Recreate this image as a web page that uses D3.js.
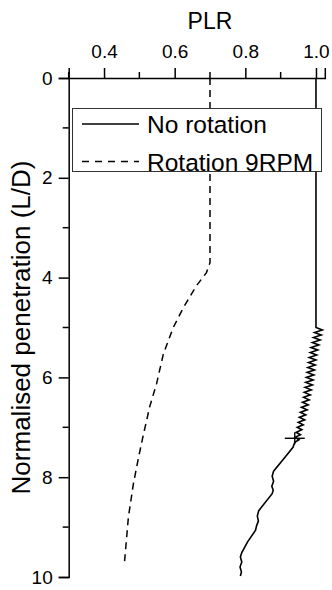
<!DOCTYPE html>
<html>
<head>
<meta charset="utf-8">
<script src="https://cdn.jsdelivr.net/npm/d3@7/dist/d3.min.js"></script>
<style>
  body { margin: 0; background: #fff; }
  svg text { font-family: "Liberation Sans", Arial, sans-serif; fill: #000; }
</style>
</head>
<body>
<div id="chart"></div>
<script>
// PLR vs normalised penetration
var seriesNames = ["No rotation", "Rotation 9RPM"];

// No rotation: [PLR, L/D]
var noRotation = [
	[1.000, 0.00], [1.000, 5.00],
	[1.018, 5.05], [0.996, 5.10], [1.015, 5.15], [0.993, 5.20], [1.012, 5.25],
	[0.990, 5.30], [1.008, 5.35], [0.986, 5.40], [1.005, 5.45], [0.984, 5.50],
	[1.002, 5.55], [0.981, 5.60], [1.000, 5.65], [0.979, 5.70], [0.998, 5.75],
	[0.977, 5.80], [0.996, 5.85], [0.975, 5.90], [0.994, 5.95], [0.973, 6.00],
	[0.992, 6.05], [0.971, 6.10], [0.990, 6.15], [0.969, 6.20], [0.987, 6.25],
	[0.967, 6.30], [0.984, 6.35], [0.965, 6.40], [0.981, 6.45], [0.962, 6.50],
	[0.978, 6.55], [0.959, 6.60], [0.975, 6.65], [0.956, 6.70], [0.971, 6.75],
	[0.953, 6.80], [0.968, 6.85], [0.950, 6.90], [0.964, 6.95], [0.947, 7.00],
	[0.960, 7.05], [0.944, 7.10], [0.956, 7.15], [0.941, 7.20], [0.952, 7.25],
	[0.940, 7.30], [0.935, 7.40], [0.910, 7.62], [0.880, 7.88],
	[0.876, 7.98], [0.880, 8.08], [0.875, 8.18], [0.879, 8.26], [0.876, 8.33],
	[0.838, 8.67], [0.834, 8.78], [0.837, 8.88], [0.832, 8.97], [0.829, 9.06],
	[0.806, 9.30], [0.790, 9.51], [0.786, 9.60], [0.790, 9.70], [0.785, 9.80],
	[0.789, 9.90], [0.786, 9.98]
];

// Rotation 9RPM: [PLR, L/D]
var rotation9 = [
	[0.700, 0.00], [0.700, 3.70], [0.690, 3.90], [0.662, 4.16], [0.624, 4.61],
	[0.596, 5.00], [0.568, 5.53], [0.549, 6.12], [0.530, 6.57], [0.511, 7.16],
	[0.497, 7.63], [0.483, 8.14], [0.469, 8.80], [0.458, 9.70]
];

// stray cross marker on the no-rotation curve
var crossMark = [0.940, 7.22];

var xTicks = [0.4, 0.6, 0.8, 1.0];
var xMinorTicks = [0.3, 0.5, 0.7, 0.9];
var yTicks = [0, 2, 4, 6, 8, 10];
var yMinorTicks = [1, 3, 5, 7, 9];

var W = 332, H = 590;

var svg = d3.select("#chart").append("svg")
	.attr("width", W)
	.attr("height", H);

var x = d3.scaleLinear().domain([0.3, 1.025]).range([68.7, 324.8]);
var y = d3.scaleLinear().domain([0, 10]).range([78, 577]);

// top axis
var xAxis = d3.axisTop(x)
	.tickValues(xTicks)
	.tickFormat(d3.format(".1f"))
	.tickSize(10)
	.tickPadding(10);

var gx = svg.append("g")
	.attr("class", "x-axis")
	.attr("transform", "translate(0," + y(0) + ")")
	.call(xAxis);

gx.append("g").selectAll("line")
	.data(xMinorTicks)
	.enter().append("line")
	.attr("x1", d => x(d)).attr("x2", d => x(d))
	.attr("y1", 0).attr("y2", -6)
	.attr("stroke", "#000").attr("stroke-width", 1.5);

// left axis
var yAxis = d3.axisLeft(y)
	.tickValues(yTicks)
	.tickFormat(d3.format("d"))
	.tickSize(10)
	.tickPadding(6);

var gy = svg.append("g")
	.attr("class", "y-axis")
	.attr("transform", "translate(" + x(0.3) + ",0)")
	.call(yAxis);

gy.append("g").selectAll("line")
	.data(yMinorTicks)
	.enter().append("line")
	.attr("y1", d => y(d)).attr("y2", d => y(d))
	.attr("x1", 0).attr("x2", -6)
	.attr("stroke", "#000").attr("stroke-width", 1.5);

svg.selectAll(".domain").attr("stroke", "#000").attr("stroke-width", 1.5);
svg.selectAll(".tick line").attr("stroke", "#000").attr("stroke-width", 1.5);
svg.selectAll(".tick text")
	.style("font-size", "19px")
	.style("font-family", "'Liberation Sans', Arial, sans-serif");

// axis titles
svg.append("text")
	.attr("x", x(0.7))
	.attr("y", 29)
	.attr("text-anchor", "middle")
	.style("font-size", "23px")
	.text("PLR");

svg.append("text")
	.attr("transform", "translate(30," + y(5) + ") rotate(-90)")
	.attr("text-anchor", "middle")
	.style("font-size", "26px")
	.text("Normalised penetration (L/D)");

// lines
var line = d3.line()
	.x(d => x(d[0]))
	.y(d => y(d[1]));

svg.append("path")
	.datum(rotation9)
	.attr("fill", "none")
	.attr("stroke", "#000")
	.attr("stroke-width", 1.5)
	.attr("stroke-dasharray", "7,5")
	.attr("d", line);

svg.append("path")
	.datum(noRotation)
	.attr("fill", "none")
	.attr("stroke", "#000")
	.attr("stroke-width", 1.6)
	.attr("stroke-linejoin", "miter")
	.attr("d", line);

// cross marker
svg.append("line")
	.attr("x1", x(crossMark[0]) - 10).attr("x2", x(crossMark[0]) + 10)
	.attr("y1", y(crossMark[1])).attr("y2", y(crossMark[1]))
	.attr("stroke", "#000").attr("stroke-width", 1.4);
svg.append("line")
	.attr("x1", x(crossMark[0])).attr("x2", x(crossMark[0]))
	.attr("y1", y(crossMark[1]) - 6).attr("y2", y(crossMark[1]) + 6)
	.attr("stroke", "#000").attr("stroke-width", 1.4);

// legend
var legend = svg.append("g").attr("class", "legend");
legend.append("rect")
	.attr("x", 72.5).attr("y", 108.5)
	.attr("width", 249).attr("height", 63)
	.attr("fill", "#fff")
	.attr("stroke", "#333")
	.attr("stroke-width", 1);

var rows = legend.selectAll("g.row")
	.data(seriesNames)
	.enter().append("g")
	.attr("class", "row")
	.attr("transform", (d, i) => "translate(0," + (124 + i * 37.5) + ")");

rows.append("line")
	.attr("x1", 82).attr("x2", 139)
	.attr("y1", 0).attr("y2", 0)
	.attr("stroke", "#000")
	.attr("stroke-width", 1.6)
	.attr("stroke-dasharray", (d, i) => i === 1 ? "7,6" : null);

rows.append("text")
	.attr("x", 147)
	.attr("y", 9)
	.style("font-size", "24.5px")
	.text(d => d);
</script>
</body>
</html>
